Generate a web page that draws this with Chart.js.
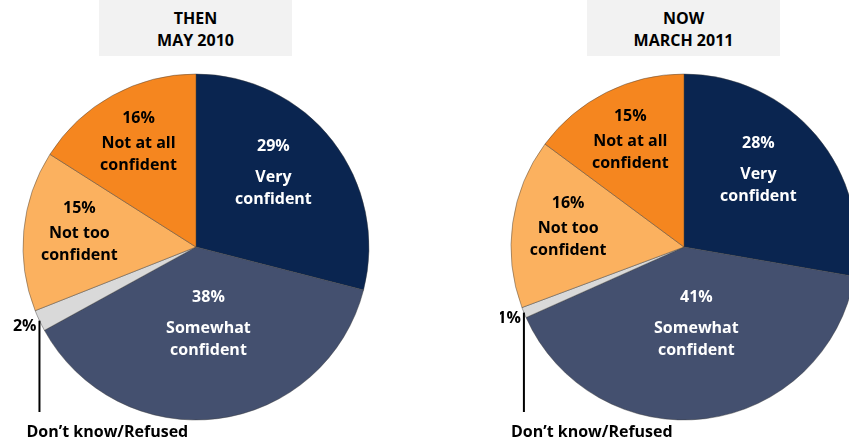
<!DOCTYPE html>
<html>
<head>
<meta charset="utf-8">
<script src="https://cdn.jsdelivr.net/npm/chart.js@4"></script>
<style>
  html, body { margin: 0; padding: 0; background: #fff; overflow: hidden; }
  body { width: 849px; height: 445px; position: relative; font-family: 'Open Sans', sans-serif; }
  .box { position: absolute; top: 0; height: 56px; width: 193px; background: #f2f2f2;
         text-align: center; font-weight: bold; font-size: 16px; line-height: 22px;
         padding-top: 7px; box-sizing: border-box; color: #000; }
  .wrap { position: absolute; top: 0; height: 445px; }
</style>
</head>
<body>
<div class="box" style="left:99px">THEN<br>MAY 2010</div>
<div class="box" style="left:587px">NOW<br>MARCH 2011</div>
<div class="wrap" style="left:0px;width:392px"><canvas id="then"></canvas></div>
<div class="wrap" style="left:500px;width:368px"><canvas id="now"></canvas></div>
<script>
const categories = ['Very confident', 'Somewhat confident', 'Don\u2019t know/Refused', 'Not too confident', 'Not at all confident']
const thenValues = [29, 38, 2, 15, 16]
const nowValues = [28, 41, 1, 16, 15]
const colors = ['#0a2550', '#44506f', '#d9d9d9', '#fbb15f', '#f5861f']
const textColors = ['#fff', '#fff', '#000', '#000', '#000']

// where the inside labels sit: fraction of the radius, and angle nudge in degrees
const labelRadius = [0.62, 0.45, 0, 0.68, 0.69]
const labelNudge = [-6, -2, 0, 2, 0]

const FONT = 'bold 16px "Open Sans"'

const sliceLabels = {
    id: 'sliceLabels',
    afterDatasetsDraw(chart) {
        const ctx = chart.ctx
        const values = chart.data.datasets[0].data
        chart.getDatasetMeta(0).data.forEach((arc, i) => {
            const { x, y, startAngle, endAngle, outerRadius } = arc.getProps(['x', 'y', 'startAngle', 'endAngle', 'outerRadius'], true)
            const mid = (startAngle + endAngle) / 2
            ctx.save()
            ctx.font = FONT
            ctx.fillStyle = textColors[i]
            if (i === 2) {
                // small slice: leader line with label underneath
                const lx = x + Math.cos(mid) * outerRadius
                const ly = y + Math.sin(mid) * outerRadius
                ctx.strokeStyle = '#000'
                ctx.lineWidth = 2
                ctx.beginPath()
                ctx.moveTo(lx, ly)
                ctx.lineTo(lx, 412)
                ctx.stroke()
                ctx.textBaseline = 'middle'
                ctx.textAlign = 'right'
                ctx.fillText(values[i] + '%', lx - 3, ly + 6)
                ctx.textAlign = 'left'
                ctx.fillText(categories[i], lx - 13, 432)
            } else {
                const a = mid + labelNudge[i] * Math.PI / 180
                const r = outerRadius * labelRadius[i]
                const cx = x + Math.cos(a) * r
                const cy = y + Math.sin(a) * r
                const name = categories[i]
                const cut = name.lastIndexOf(' ')
                const lines = [name.slice(0, cut), name.slice(cut + 1)]
                const gap = i < 2 ? 31 : 25
                const total = gap + 22
                let ty = cy - total / 2
                ctx.textAlign = 'center'
                ctx.textBaseline = 'middle'
                ctx.fillText(values[i] + '%', cx, ty)
                ty += gap
                lines.forEach(l => { ctx.fillText(l, cx, ty); ty += 22 })
            }
            ctx.restore()
        })
    }
}

function makePie(el, values) {
    return new Chart(el, {
        type: 'pie',
        data: {
            labels: categories,
            datasets: [{
                data: values,
                backgroundColor: colors,
                borderColor: 'rgba(60,60,60,0.55)',
                borderWidth: 0.8,
                radius: 173
            }]
        },
        options: {
            responsive: true,
            maintainAspectRatio: false,
            animation: false,
            layout: { padding: { top: 74, bottom: 25 } },
            plugins: {
                legend: { display: false },
                tooltip: { enabled: false }
            }
        },
        plugins: [sliceLabels]
    })
}

makePie(document.getElementById('then'), thenValues)
makePie(document.getElementById('now'), nowValues)
</script>
</body>
</html>
